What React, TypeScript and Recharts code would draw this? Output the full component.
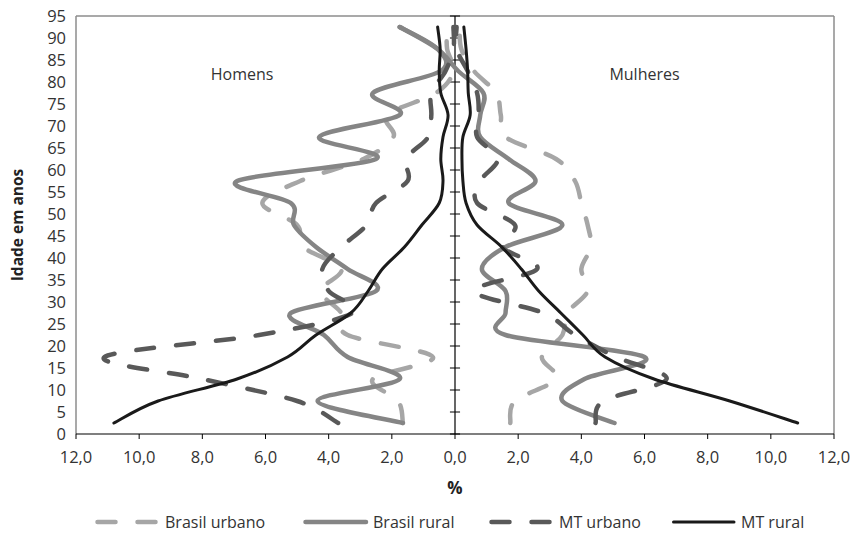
import React from 'react';
import { LineChart, Line, XAxis, YAxis, ReferenceLine, ReferenceDot, Legend } from 'recharts';

// Age group midpoints (years)
const ages = [2.5, 7.5, 12.5, 17.5, 22.5, 27.5, 32.5, 37.5, 42.5, 47.5, 52.5, 57.5, 62.5, 67.5, 72.5, 77.5, 82.5, 87.5, 92.5];

// Percent of population per age group (men negative, women positive)
const brasilUrbanoHomens = [-1.65, -1.8, -2.6, -0.7, -3.4, -3.6, -4.25, -3.6, -4.8, -5.0, -6.1, -4.9, -2.9, -1.95, -2.15, -0.6, -0.05, -0.25, -0.25];
const brasilUrbanoMulheres = [1.75, 1.9, 3.2, 2.75, 3.4, 3.55, 4.2, 4.0, 4.3, 4.2, 4.0, 3.8, 3.2, 1.6, 1.45, 1.3, 0.6, 0.2, 0.15];
const brasilRuralHomens = [-1.65, -4.35, -1.75, -3.4, -4.15, -5.2, -2.5, -3.4, -4.4, -5.1, -5.2, -6.9, -2.5, -4.3, -1.75, -2.6, -0.45, -0.55, -1.75];
const brasilRuralMulheres = [5.05, 3.4, 4.1, 6.0, 1.6, 1.6, 1.6, 0.85, 1.6, 3.4, 1.7, 2.55, 1.7, 0.8, 0.8, 0.9, 0.1, -0.55, -1.75];
const mtUrbanoHomens = [-3.7, -5.0, -8.0, -11.1, -6.2, -3.25, -4.0, -4.2, -3.6, -2.8, -2.5, -1.5, -1.55, -0.85, -0.75, -0.75, -0.3, -0.05, -0.05];
const mtUrbanoMulheres = [4.45, 4.7, 6.7, 5.1, 3.8, 2.8, 0.6, 2.6, 1.5, 1.9, 0.7, 0.8, 1.35, 0.7, 0.75, 0.7, 0.4, 0.05, 0.05];
const mtRuralHomens = [-10.8, -9.4, -6.9, -5.3, -4.4, -3.3, -2.75, -2.3, -1.6, -1.05, -0.5, -0.38, -0.45, -0.38, -0.22, -0.45, -0.5, -0.47, -0.55];
const mtRuralMulheres = [10.85, 8.7, 6.3, 4.75, 4.05, 3.35, 2.65, 2.1, 1.48, 0.7, 0.35, 0.25, 0.22, 0.25, 0.48, 0.42, 0.4, 0.35, 0.28];

const seriesNames = ['Brasil urbano', 'Brasil rural', 'MT urbano', 'MT rural'];
const sideLabels = ['Homens', 'Mulheres'];
const xTicks = [-12, -10, -8, -6, -4, -2, 0, 2, 4, 6, 8, 10, 12];
const yTicks = [0, 5, 10, 15, 20, 25, 30, 35, 40, 45, 50, 55, 60, 65, 70, 75, 80, 85, 90, 95];
const xAxisTitle = '%';
const yAxisTitle = 'Idade em anos';

const rows = ages.map((age, i) => ({
  age,
  buM: brasilUrbanoHomens[i],
  buF: brasilUrbanoMulheres[i],
  brM: brasilRuralHomens[i],
  brF: brasilRuralMulheres[i],
  muM: mtUrbanoHomens[i],
  muF: mtUrbanoMulheres[i],
  mrM: mtRuralHomens[i],
  mrF: mtRuralMulheres[i],
}));

const styles = [
  { stroke: '#a6a6a6', width: 4.5, dash: '18 22' },
  { stroke: '#858585', width: 4.5, dash: undefined },
  { stroke: '#595959', width: 4.5, dash: '18 22' },
  { stroke: '#1a1a1a', width: 3, dash: undefined },
];
const seriesKeys = [['buM', 'buF'], ['brM', 'brF'], ['muM', 'muF'], ['mrM', 'mrF']];
const sideLabelPos = [{ x: -6.74, y: 81.8 }, { x: 6.0, y: 81.8 }];
const legendItemLeft = [95, 303, 489, 671];

// Excel-like smoothing (Catmull-Rom through points, parametric)
function excelCurve(context: any) {
  let pts: number[][] = [];
  return {
    areaStart() {},
    areaEnd() {},
    lineStart() { pts = []; },
    point(x: number, y: number) { pts.push([+x, +y]); },
    lineEnd() {
      const n = pts.length;
      if (!n) return;
      context.moveTo(pts[0][0], pts[0][1]);
      for (let i = 0; i < n - 1; i++) {
        const p0 = pts[i - 1] || pts[i];
        const p1 = pts[i];
        const p2 = pts[i + 1];
        const p3 = pts[i + 2] || pts[i + 1];
        context.bezierCurveTo(
          p1[0] + (p2[0] - p0[0]) / 6, p1[1] + (p2[1] - p0[1]) / 6,
          p2[0] - (p3[0] - p1[0]) / 6, p2[1] - (p3[1] - p1[1]) / 6,
          p2[0], p2[1]
        );
      }
    },
  };
}

const fmt = (v: number) => Math.abs(v).toFixed(1).replace('.', ',');
const FONT = 'Open Sans';

function renderLegend() {
  return (
    <div style={{ position: 'relative', height: 24, width: 859, fontFamily: FONT, fontSize: 16, color: '#333' }}>
      {seriesNames.map((name, i) => (
        <div key={name} style={{ position: 'absolute', left: legendItemLeft[i], top: 0, height: 24, display: 'flex', alignItems: 'center', whiteSpace: 'nowrap' }}>
          <svg width={66} height={10}>
            <line x1={2.5} y1={5} x2={63} y2={5} stroke={styles[i].stroke} strokeWidth={styles[i].width}
              strokeDasharray={styles[i].dash} strokeLinecap="round" />
          </svg>
          <span style={{ marginLeft: 4 }}>{name}</span>
        </div>
      ))}
    </div>
  );
}

export default function App() {
  return (
    <div style={{ width: 859, height: 534, margin: '-8px 0 0 -8px', fontFamily: FONT }}>
      <LineChart layout="vertical" width={859} height={534} data={rows}
        margin={{ top: 16, right: 25, left: 8, bottom: 0 }}>
        <XAxis type="number" domain={[-12, 12]} ticks={xTicks} tickFormatter={fmt} height={76}
          axisLine={{ stroke: '#000', strokeWidth: 1.2 }} tickLine={{ stroke: '#000' }} tickSize={5} tickMargin={12}
          tick={{ fontSize: 16.5, fill: '#333', fontFamily: FONT }} allowDataOverflow
          label={{
            content: (p: any) => {
              const vb = p.viewBox || {};
              return (
                <text x={vb.x + vb.width / 2} y={vb.y + 60} textAnchor="middle" fontWeight="bold" fontSize={17} fill="#222" fontFamily={FONT}>{xAxisTitle}</text>
              );
            },
          }} />
        <YAxis type="number" dataKey="age" domain={[0, 95]} ticks={yTicks} width={68} reversed
          axisLine={false} tickLine={false} tickSize={0} tickMargin={10} interval={0}
          tick={{ fontSize: 16.5, fill: '#333', fontFamily: FONT }}
          label={{
            content: (p: any) => {
              const vb = p.viewBox || {};
              const cx = vb.x + 8.5;
              const cy = vb.y + vb.height / 2;
              return (
                <text x={cx} y={cy} transform={`rotate(-90 ${cx} ${cy})`} textAnchor="middle" dominantBaseline="central"
                  fontWeight="bold" fontSize={15.5} fill="#222" fontFamily={FONT}>{yAxisTitle}</text>
              );
            },
          }} />
        <ReferenceLine x={-12} stroke="#8c8c8c" strokeWidth={1.5} />
        <ReferenceLine x={12} stroke="#8c8c8c" strokeWidth={1.5} />
        <ReferenceLine y={95} stroke="#8c8c8c" strokeWidth={1.5} />
        <ReferenceLine x={0} stroke="#000" strokeWidth={1.2} />
        {yTicks.map((t) => (
          <ReferenceLine key={'t' + t} segment={[{ x: -0.16, y: t }, { x: 0.16, y: t }]} stroke="#000" strokeWidth={1} />
        ))}
        {sideLabels.map((s, i) => (
          <ReferenceDot key={s} x={sideLabelPos[i].x} y={sideLabelPos[i].y} r={0} fill="none" stroke="none"
            label={{ value: s, position: 'center', fontSize: 16, fill: '#333', fontFamily: FONT }} />
        ))}
        {seriesKeys.map((pair, i) =>
          pair.map((k, j) => (
            <Line key={k} dataKey={k} name={seriesNames[i]} type={excelCurve as any} stroke={styles[i].stroke}
              strokeWidth={styles[i].width} strokeDasharray={styles[i].dash} strokeLinecap="round"
              dot={false} activeDot={false} isAnimationActive={false} legendType={j === 0 ? 'line' : 'none'} />
          ))
        )}
        <Legend verticalAlign="bottom" height={24} content={renderLegend} wrapperStyle={{ left: 0, bottom: 0, width: 859 }} />
      </LineChart>
    </div>
  );
}
